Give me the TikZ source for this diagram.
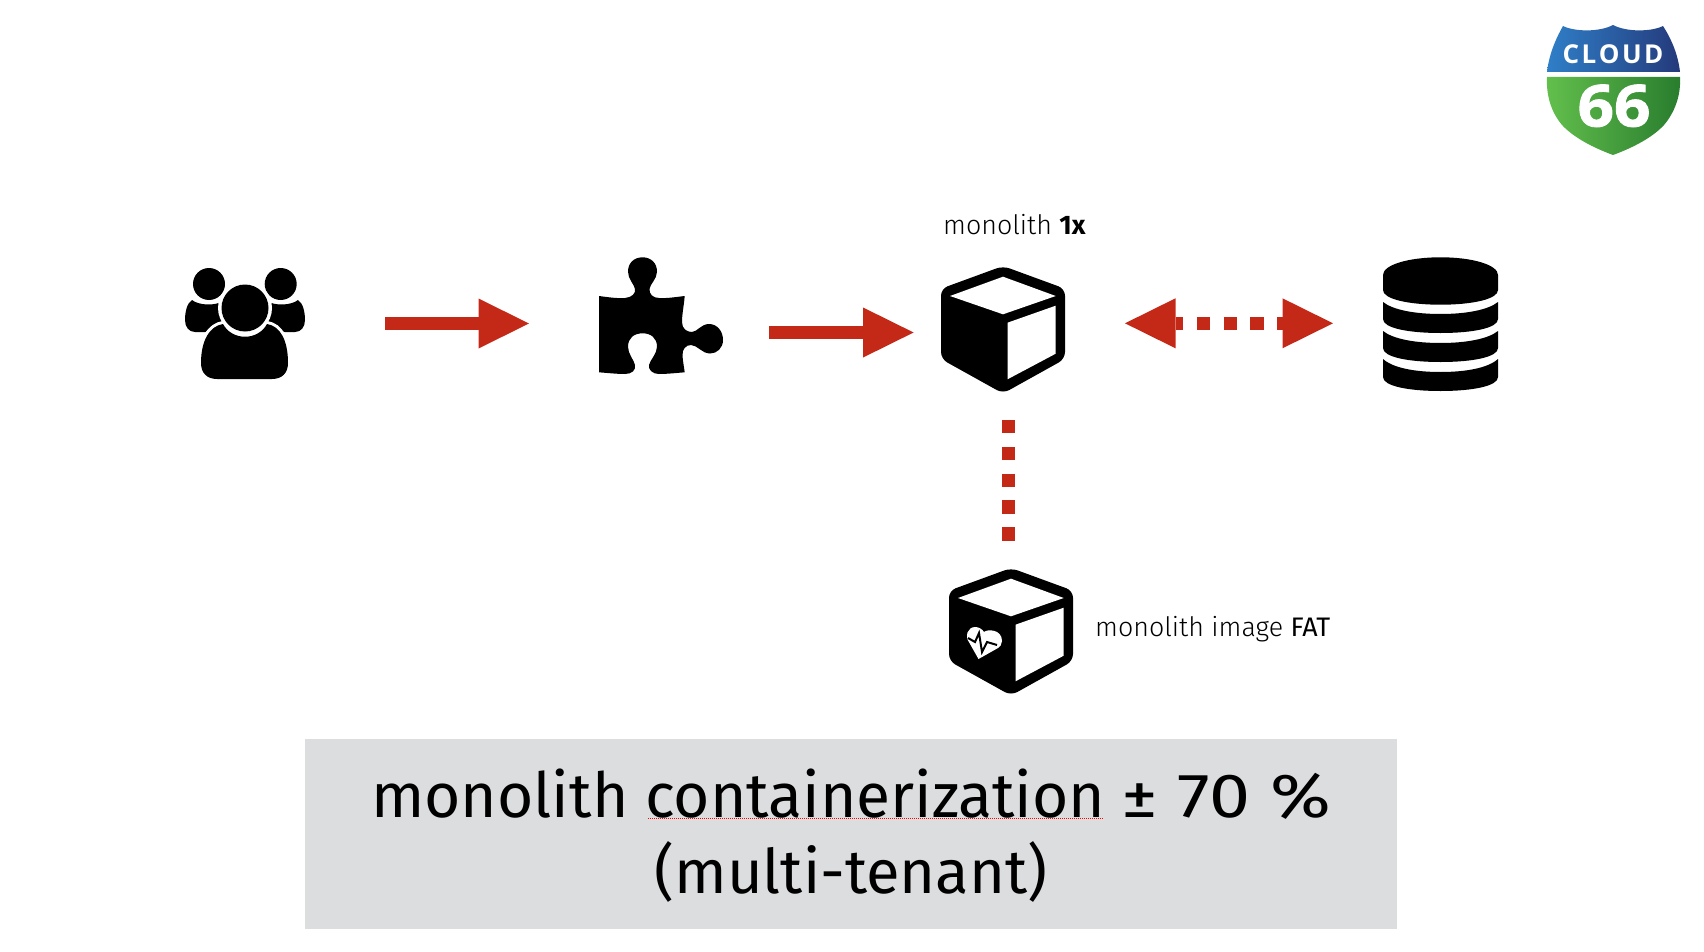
\documentclass[tikz,border=0pt]{standalone}
\usepackage{fontspec}
\usepackage{graphicx}
\usetikzlibrary{arrows.meta,calc}
\setmainfont{Fira Sans}
\newfontfamily\lightfont{Fira Sans Light}
\newfontfamily\logofont{Open Sans}
\newfontfamily\heavyfont[FakeStretch=1.1,FakeBold=1.5]{Open Sans}
\definecolor{arrowred}{HTML}{C42917}
\definecolor{panelgray}{HTML}{DCDDDF}
\definecolor{shieldblueA}{HTML}{2F7FC8}
\definecolor{shieldblueB}{HTML}{243A7B}
\definecolor{shieldgreenA}{HTML}{63C04C}
\definecolor{shieldgreenB}{HTML}{287C2E}
\tikzset{
  x=1pt,y=-1pt,
  iconbox/.style={inner sep=0pt,outer sep=0pt,minimum width=#1},
  redhead/.tip={Triangle[length=50.5pt,width=50pt,line width=0pt,fill=arrowred]},
  solidarrow/.style={draw=arrowred,line width=13.2pt,-redhead},
  dotline/.style={draw=arrowred,line width=13.2pt,dash pattern=on 13.4pt off 13.4pt},
  label/.style={inner sep=0pt,anchor=base west,font=\lightfont\fontsize{26.8}{30}\selectfont},
  bigtext/.style={inner sep=0pt,anchor=base,font=\fontsize{62.3}{66}\selectfont},
  boxicon/.pic={
    \fill[black,rounded corners=7pt] (0,-1) -- (62,21.7) -- (62,92) -- (0,126.5) -- (-62,92) -- (-62,21.7) -- cycle;
    \fill[white] (0,9.7) -- (52.7,29) -- (0,47.3) -- (-53,29) -- cycle;
    \fill[white] (4.5,55.7) -- (52.7,38.7) -- (52.7,86.7) -- (4.5,112.3) -- cycle;
  }
}
\begin{document}
\begin{tikzpicture}
\useasboundingbox (0,0) rectangle (1704,952);
% panel
\fill[panelgray] (305,739) rectangle (1397,929);
\node[bigtext] (line1) at (851,817) {monolith containerization \scalebox{1.18}[1]{± 70 \%}};
\node[bigtext,font=\fontsize{61.5}{66}\selectfont] (line2) at (851,893) {(multi-tenant)};
\draw[red,line width=1pt,dash pattern=on 1pt off 1pt] (648,818.5) -- (1104,818.5);

% icon frames
\node[iconbox=120pt,minimum height=111pt] (users) at (245,323.5) {};
\node[iconbox=124pt,minimum height=117pt] (puzzle) at (661,315.5) {};
\node[iconbox=124pt,minimum height=124pt] (mono) at (1003,329) {};
\node[iconbox=115pt,minimum height=134pt] (db) at (1440.5,324) {};
\node[iconbox=124pt,minimum height=124pt] (fat) at (1011,631) {};

% users
\fill (209,284) circle (16);
\fill (280.7,284) circle (16);
\fill (192,300) .. controls (198,305) and (215,307) .. (225,300) -- (232,325) -- (205,332) -- (195,332) .. controls (189,332) and (185,327) .. (185,320) .. controls (185,312) and (187,303) .. (192,300) -- cycle;
\fill (298,300) .. controls (292,305) and (275,307) .. (265,300) -- (258,325) -- (285,332) -- (295,332) .. controls (301,332) and (305,327) .. (305,320) .. controls (305,312) and (303,303) .. (298,300) -- cycle;
\fill[white] (245,308) circle (27);
\fill (245,308) circle (23.5);
\path[draw=white,line width=6pt,fill=black] (223,324) .. controls (232,341) and (258,341) .. (267,324) .. controls (280,326) and (288,340) .. (288,363) .. controls (288,373) and (282,379) .. (272,379) -- (217,379) .. controls (207,379) and (201,373) .. (201,363) .. controls (201,340) and (210,326) .. (223,324) -- cycle;
\fill (223,324) .. controls (232,341) and (258,341) .. (267,324) .. controls (280,326) and (288,340) .. (288,363) .. controls (288,373) and (282,379) .. (272,379) -- (217,379) .. controls (207,379) and (201,373) .. (201,363) .. controls (201,340) and (210,326) .. (223,324) -- cycle;

% puzzle
\fill (599,296) .. controls (610,297.5) and (618,298.5) .. (625,298) .. controls (632,297.5) and (636,293) .. (635,289) .. controls (634,284) and (628,279) .. (628,271.7) .. controls (628,263) and (634,257.3) .. (642.6,257.3) .. controls (651,257.3) and (657,263) .. (657,271.7) .. controls (657,279) and (650,284) .. (649.5,289) .. controls (649,294) and (653,298) .. (659,298) .. controls (667,298.5) and (676,297) .. (684.7,296) .. controls (684,305) and (682,314) .. (682,322) .. controls (682,329) and (687,332) .. (692,332) .. controls (697,332) and (701,324) .. (709,324) .. controls (717,324) and (723,331) .. (723,340) .. controls (723,348) and (717,353.5) .. (710,353.5) .. controls (702,353.5) and (697,345) .. (691,345) .. controls (686,345) and (682,349) .. (682.5,356) .. controls (683,362) and (684,367) .. (684.7,372.3) .. controls (676,373) and (667,374) .. (659,374) .. controls (653,374) and (648,370) .. (649,365) .. controls (650,360) and (657,354) .. (657,346.7) .. controls (657,338) and (651,333.3) .. (642.6,333.3) .. controls (634,333.3) and (628,338) .. (628,346.7) .. controls (628,354) and (634,360) .. (635,365) .. controls (636,370) and (632,374) .. (625,374) .. controls (617,374) and (608,373) .. (599,372.3) -- cycle;

% cubes
\pic at (mono.north) {boxicon};
\pic at (fat.north) {boxicon};
\fill[white] (978.5,659) -- (969.5,643) .. controls (964,636) and (968,627) .. (975,627) .. controls (979,627) and (982,629) .. (984,632) .. controls (987,629) and (1002,629) .. (1002,641) .. controls (1002,644) and (1000,647) .. (998,648) -- cycle;
\draw[black,line width=2pt,line join=miter] (968,638) -- (975,642) -- (979,633) -- (982,652) -- (987,642) -- (997,645);

% database
\fill (1383,275) .. controls (1383,265) and (1408,257.3) .. (1440.5,257.3) .. controls (1473,257.3) and (1498,265) .. (1498,275) -- (1498,290) .. controls (1498,299) and (1473,304.7) .. (1440.5,304.7) .. controls (1408,304.7) and (1383,299) .. (1383,290) -- cycle;
\fill (1383,302) .. controls (1393,310) and (1415,314) .. (1440.5,314) .. controls (1466,314) and (1488,310) .. (1498,302) -- (1498,319) .. controls (1498,328) and (1473,333) .. (1440.5,333) .. controls (1408,333) and (1383,328) .. (1383,319) -- cycle;
\fill (1383,331) .. controls (1393,339) and (1415,343) .. (1440.5,343) .. controls (1466,343) and (1488,339) .. (1498,331) -- (1498,348) .. controls (1498,357) and (1473,362) .. (1440.5,362) .. controls (1408,362) and (1383,357) .. (1383,348) -- cycle;
\fill (1383,359) .. controls (1393,368) and (1415,372) .. (1440.5,372) .. controls (1466,372) and (1488,368) .. (1498,359) -- (1498,377) .. controls (1498,386) and (1473,391) .. (1440.5,391) .. controls (1408,391) and (1383,386) .. (1383,377) -- cycle;

% connectors
\draw[solidarrow,shorten <=80pt,shorten >=70pt] (users.east) -- (users.east -| puzzle.west);
\draw[solidarrow,shorten <=46pt,shorten >=27.4pt] ([yshift=-17pt]puzzle.east) -- ([yshift=-17pt]puzzle.east -| mono.west);
\draw[dotline,dash phase=5.5pt,redhead-redhead,shorten <=60pt,shorten >=50pt] ([yshift=5.7pt]mono.east) -- ([yshift=5.7pt]mono.east -| db.west);
\draw[dotline,shorten <=29pt,shorten >=28.3pt] ([xshift=5.5pt]mono.south) -- ([xshift=5.5pt]mono.south |- fat.north);

% labels
\node[label] (monolabel) at (943,234) {monolith {\fontspec{Fira Sans}\bfseries 1x}};
\node[label] (fatlabel) at (1095,636) {monolith image {\fontspec{Fira Sans}FAT}};

% logo
\path[left color=shieldblueA,right color=shieldblueB] (1563,26) .. controls (1575,32) and (1600,32) .. (1613,25) .. controls (1626,32) and (1651,32) .. (1663,26) .. controls (1672,40) and (1678,55) .. (1680,72) -- (1547,72) .. controls (1549,55) and (1555,40) .. (1563,26) -- cycle;
\path[left color=shieldgreenA,right color=shieldgreenB] (1547,77) -- (1680,77) .. controls (1681,95) and (1675,112) .. (1664,125) .. controls (1652,138) and (1632,148) .. (1613,155) .. controls (1594,148) and (1574,138) .. (1562,125) .. controls (1551,112) and (1546,95) .. (1547,77) -- cycle;
\node[inner sep=0pt,anchor=base,text=white,font=\logofont\bfseries\fontsize{26}{28}\selectfont] (cloud) at (1613,64) {C\kern2.5ptL\kern2.5ptO\kern2.5ptU\kern2.5ptD};
\node[inner sep=0pt,anchor=base,text=white,font=\heavyfont\bfseries\fontsize{58}{60}\selectfont] (sixes) at (1614,126.5) {66};
\end{tikzpicture}
\end{document}
